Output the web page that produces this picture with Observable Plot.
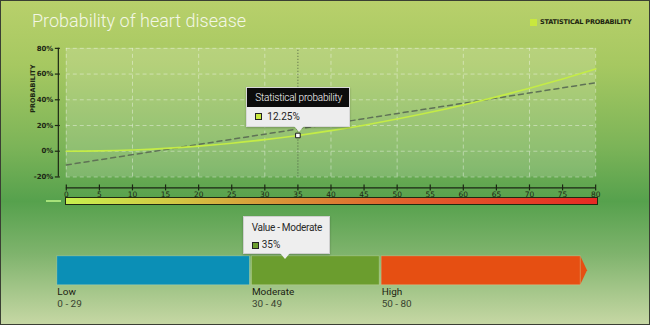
<!DOCTYPE html>
<html><head><meta charset="utf-8">
<script src="https://cdn.jsdelivr.net/npm/d3@7"></script>
<script src="https://cdn.jsdelivr.net/npm/@observablehq/plot@0.6"></script>
<style>
html,body{margin:0;padding:0;}
#wrap{position:relative;width:650px;height:325px;overflow:hidden;box-sizing:border-box;border:1px solid #3a3f33;
 background:linear-gradient(to bottom,#b8d06b 0%,#a6c861 20%,#7cb458 45%,#56a14d 62%,#7eb36c 78%,#c6d7a4 100%);font-family:"Roboto",sans-serif;}
.abs{position:absolute;}
#title{left:31px;top:9px;font-size:18px;font-weight:300;color:#f3f7e6;white-space:nowrap;}
#legend{left:529px;top:17px;font:bold 6.5px "DejaVu Sans",sans-serif;color:#1d2410;letter-spacing:-0.2px;display:flex;align-items:center;white-space:nowrap;}
#legend i{display:inline-block;width:7px;height:7px;background:#c9e83e;margin-right:3px;}
#grad{left:64px;top:196px;width:533px;height:8px;box-sizing:border-box;border:1px solid #1f2a12;
 background:linear-gradient(to right,#c8f04e 0%,#d2c844 20%,#da9438 40%,#e0642e 62%,#e62a24 100%);}
#mini{left:45px;top:199px;width:15px;height:2px;background:#a6e27a;}
.tip{position:absolute;box-sizing:border-box;font-size:10px;white-space:nowrap;}
.tip .arrow{position:absolute;width:0;height:0;border-left:5px solid transparent;border-right:5px solid transparent;}
svg{position:absolute;left:0;overflow:visible;}
</style></head>
<body><div id="wrap">
<div id="title" class="abs"></div>
<div id="legend" class="abs"><i></i><span id="legtxt"></span></div>
<div id="grad" class="abs"></div>
<div id="mini" class="abs"></div>
</div>
<script>
const title = "Probability of heart disease";
const seriesName = "Statistical probability";
const yLabel = "PROBABILITY";
const ages = [0,5,10,15,20,25,30,35,40,45,50,55,60,65,70,75,80];
const probability = [0,0.25,1,2.25,4,6.25,9,12.25,16,20.25,25,30.25,36,42.25,49,56.25,64];
const trendAges = [0,80];
const trendValues = [-10.7,53.3];
const xTicks = [0,5,10,15,20,25,30,35,40,45,50,55,60,65,70,75,80];
const xGrid = [0,10,20,30,40,50,60,70,80];
const yTicks = [-20,0,20,40,60,80];
const highlightAge = 35;
const highlightValue = 12.25;
const levelNames = ["Low","Moderate","High"];
const levelStart = [0,30,50];
const levelEnd = [30,50,81];
const levelRanges = ["0 - 29","30 - 49","50 - 80"];
const levelColors = ["#0b8fb6","#6b9d2e","#e64f12"];
const currentValue = 35;
const currentLevel = "Moderate";

const px = "DejaVu Sans, sans-serif";
document.getElementById("title").textContent = title;
document.getElementById("legtxt").textContent = seriesName.toUpperCase();

const curvePts = ages.map((a,i)=>({x:a,y:probability[i]}));
const trendPts = trendAges.map((a,i)=>({x:a,y:trendValues[i]}));

const topChart = Plot.plot({
  width:650, height:210, marginLeft:65, marginRight:54, marginTop:47, marginBottom:34,
  x:{domain:[0,80], axis:null}, y:{domain:[-20,80], axis:null},
  marks:[
    Plot.rect([0],{x1:0,x2:80,y1:-20,y2:80,fill:"#ffffff",fillOpacity:0.16}),
    Plot.ruleX(xGrid,{x:d=>d,y1:-20,y2:80,stroke:"#ffffff",strokeOpacity:0.4,strokeDasharray:"4,3"}),
    Plot.ruleY(yTicks,{y:d=>d,x1:0,x2:80,stroke:"#ffffff",strokeOpacity:0.4,strokeDasharray:"4,3"}),
    Plot.ruleX([highlightAge],{x:d=>d,y1:-20,y2:80,stroke:"#3c4a36",strokeOpacity:0.8,strokeDasharray:"1,2"}),
    Plot.line(trendPts,{x:"x",y:"y",stroke:"#5f7256",strokeWidth:1.5,strokeDasharray:"5,4"}),
    Plot.line(curvePts,{x:"x",y:"y",stroke:"#c4ec46",strokeWidth:1.6,curve:"monotone-x"}),
    Plot.ruleX([0],{y1:-20,y2:80,dx:-8,stroke:"#1c2614",strokeWidth:1.2}),
    Plot.ruleY(yTicks,{y:d=>d,x1:0,x2:0,dx:-8,insetLeft:-3,insetRight:-2,stroke:"#1c2614",strokeWidth:1.2}),
    Plot.text(yTicks,{x:0,y:d=>d,text:d=>d+"%",dx:-13,textAnchor:"end",fontSize:7,fontWeight:"bold",fontFamily:px,fill:"#1c2614"}),
    Plot.text([yLabel],{frameAnchor:"left",dx:-33,rotate:-90,fontSize:6.5,fontWeight:"bold",fontFamily:px,fill:"#1c2614"}),
    Plot.ruleY([-20],{x1:0,x2:80,dy:11,stroke:"#1c2614",strokeWidth:1.2}),
    Plot.ruleX(xTicks,{x:d=>d,y1:-20,y2:-20,dy:11,insetTop:-3,insetBottom:-3,stroke:"#1c2614",strokeWidth:1.2}),
    Plot.text(xTicks,{x:d=>d,y:-20,dy:18,text:d=>String(d),fontSize:7.5,fontFamily:px,fill:"#1c2614"}),
    Plot.dot([{x:highlightAge,y:highlightValue}],{x:"x",y:"y",symbol:"square",r:2.6,fill:"#ffffff",stroke:"#1a1a1a",strokeWidth:1})
  ]
});
topChart.style.top = "0px";
const wrap = document.getElementById("wrap");
wrap.appendChild(topChart);

const bands = levelNames.map((n,i)=>({name:n,start:levelStart[i],end:levelEnd[i],range:levelRanges[i],color:levelColors[i]}));
const tipPts = [{x:levelEnd[2],y1:0,y2:1},{x:levelEnd[2]+1.05,y1:0.5,y2:0.5}];
const bottomChart = Plot.plot({
  width:650, height:115, marginLeft:55, marginRight:68, marginTop:45, marginBottom:41,
  x:{domain:[0,81], axis:null}, y:{domain:[0,1], axis:null},
  marks:[
    Plot.areaY(tipPts,{x:"x",y1:"y1",y2:"y2",fill:levelColors[2],dx:-1}),
    Plot.barX(bands,{x1:"start",x2:"end",fill:"color",insetLeft:1,insetRight:1,stroke:"#e6efc4",strokeOpacity:0.35,strokeWidth:0.8}),
    Plot.text(bands,{x:"start",frameAnchor:"bottom",dx:1,dy:10,text:"name",textAnchor:"start",fontSize:10,fill:"#1b2212",fontFamily:"Roboto, sans-serif"}),
    Plot.text(bands,{x:"start",frameAnchor:"bottom",dx:1,dy:22,text:"range",textAnchor:"start",fontSize:10,fill:"#3a4330",fontFamily:"Roboto, sans-serif",letterSpacing:0.8})
  ]
});
bottomChart.style.top = "210px";
wrap.appendChild(bottomChart);

const tx = topChart.scale("x").apply(highlightAge);
const ty = topChart.scale("y").apply(highlightValue);
const t1 = document.createElement("div");
t1.className = "tip";
t1.style.cssText = `left:${tx-52}px;top:${ty-48}px;width:104px;height:40px;border:1px solid #d8d8d8;background:#ededed;box-shadow:0 1px 2px rgba(0,0,0,0.25);`;
t1.innerHTML = `<div style="background:#0c0c0c;color:#fff;height:19px;line-height:19px;padding-left:8px;font-size:10px;font-weight:300;letter-spacing:-0.2px;">${seriesName}</div>
<div style="height:19px;line-height:19px;padding-left:8px;color:#222;display:flex;align-items:center;"><i style="display:inline-block;width:5px;height:5px;background:#c9e83e;border:1px solid #222;margin-right:5px;"></i>${highlightValue}%</div>
<div class="arrow" style="left:47px;bottom:-6px;border-top:6px solid #ededed;"></div>`;
wrap.appendChild(t1);

const bx = bottomChart.scale("x").apply(currentValue);
const t2 = document.createElement("div");
t2.className = "tip";
t2.style.cssText = `left:${bx-41}px;top:215px;width:87px;height:38px;border:1px solid #cfcfcf;background:#eeeeee;box-shadow:0 1px 2px rgba(0,0,0,0.25);padding-left:8px;color:#2a2a2a;`;
t2.innerHTML = `<div style="height:20px;line-height:21px;letter-spacing:-0.3px;">Value - ${currentLevel}</div>
<div style="height:16px;line-height:14px;display:flex;align-items:center;"><i style="display:inline-block;width:5px;height:5px;background:${levelColors[1]};border:1px solid #222;margin-right:3px;"></i>${currentValue}%</div>
<div class="arrow" style="left:36px;bottom:-6px;border-top:6px solid #eeeeee;"></div>`;
wrap.appendChild(t2);
</script>
</body></html>
